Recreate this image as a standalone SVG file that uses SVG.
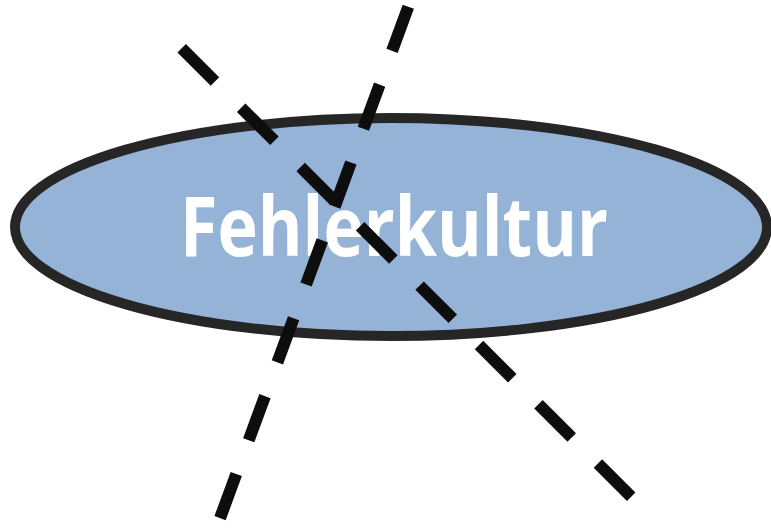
<svg xmlns="http://www.w3.org/2000/svg" width="771" height="530" viewBox="0 0 771 530">
<style>
.node-shape{fill:#95b3d7;stroke:#262626;stroke-width:10}
.label{font-family:"Open Sans","Liberation Sans",sans-serif;font-weight:bold;fill:#ffffff}
.dash{stroke:#0d0d0d;stroke-width:12;fill:none}
</style>
<rect width="771" height="530" fill="#ffffff"/>
<g id="node-fehlerkultur">
<ellipse class="node-shape" cx="391" cy="227" rx="376" ry="109"/>
<text class="label" x="394" y="256" font-size="82" text-anchor="middle" textLength="428" lengthAdjust="spacingAndGlyphs">Fehlerkultur</text>
</g>
<g id="connectors">
<line class="dash" stroke-dasharray="47 37" x1="181.7" y1="48.3" x2="631.7" y2="497.3"/>
<line class="dash" stroke-dasharray="47 36" x1="408.3" y1="6.7" x2="220" y2="518.3"/>
</g>
</svg>
